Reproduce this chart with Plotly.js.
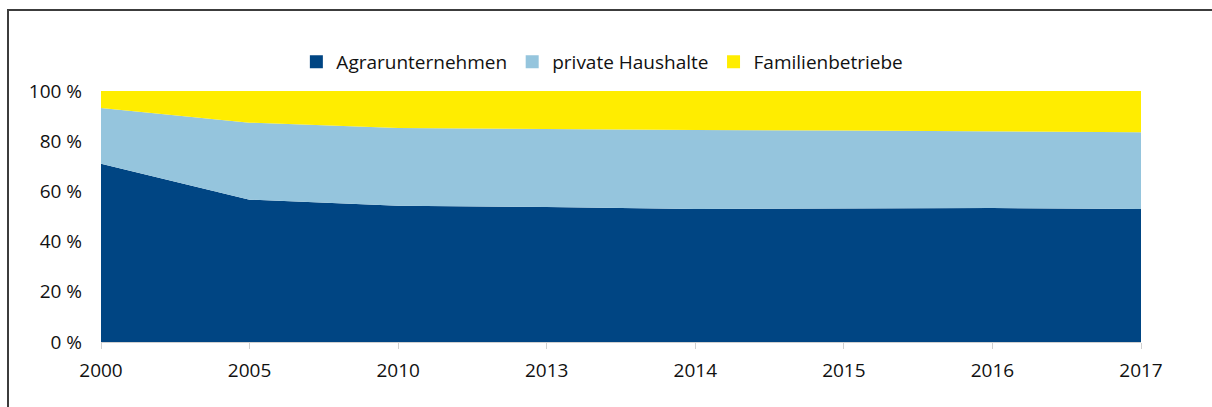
<!DOCTYPE html>
<html>
<head>
<meta charset="utf-8">
<script src="https://cdn.plot.ly/plotly-3.0.1.min.js"></script>
<style>
  html, body { margin: 0; padding: 0; background: #fff; overflow: hidden; }
  #wrap { position: relative; width: 1212px; height: 407px; }
  #chart { position: absolute; left: 0; top: 0; width: 1212px; height: 407px; }
  #frame { position: absolute; left: 7px; top: 9px; width: 1400px; height: 600px;
           border-left: 2px solid #3c3c3c; border-top: 2px solid #3c3c3c; pointer-events: none; }
</style>
</head>
<body>
<div id="wrap">
  <div id="chart"></div>
  <div id="frame"></div>
</div>
<script>
const years = ["2000", "2005", "2010", "2013", "2014", "2015", "2016", "2017"];
const agrarunternehmen = [71.0, 56.7, 54.3, 53.8, 53.0, 53.1, 53.4, 53.0];
const privateHaushalte = [22.2, 30.7, 31.0, 31.0, 31.5, 31.2, 30.6, 30.6];
const familienbetriebe = [6.8, 12.6, 14.7, 15.2, 15.5, 15.7, 16.0, 16.4];
const seriesNames = ["Agrarunternehmen", "private Haushalte", "Familienbetriebe"];
const seriesColors = ["#004583", "#95c5dd", "#ffed00"];
const yTicks = [0, 20, 40, 60, 80, 100];
const yTickLabels = ["0 %", "20 %", "40 %", "60 %", "80 %", "100 %"];

const seriesValues = [agrarunternehmen, privateHaushalte, familienbetriebe];
const traces = [];
seriesValues.forEach((vals, i) => {
  traces.push({
    x: years, y: vals, type: "scatter", mode: "lines",
    stackgroup: "one", line: { width: 0, color: seriesColors[i] },
    fillcolor: seriesColors[i], showlegend: false, hoverinfo: "skip", name: seriesNames[i]
  });
});
seriesNames.forEach((n, i) => {
  traces.push({
    x: [null], y: [null], type: "scatter", mode: "markers", name: n,
    marker: { symbol: "square", size: 13, color: seriesColors[i] },
    showlegend: true, hoverinfo: "skip"
  });
});

const layout = {
  width: 1212, height: 407,
  margin: { l: 101, r: 71, t: 91, b: 65 },
  paper_bgcolor: "rgba(0,0,0,0)", plot_bgcolor: "#fff",
  font: { family: "Open Sans, sans-serif", size: 19, color: "#111" },
  showlegend: true,
  legend: {
    orientation: "h", xref: "container", yref: "container",
    x: 0.497, xanchor: "center", y: 1 - 62 / 407, yanchor: "middle",
    traceorder: "normal", font: { size: 19, color: "#111" }, itemwidth: 30
  },
  xaxis: {
    type: "category", range: [0, years.length - 1],
    showline: true, linecolor: "#d0d0d0", linewidth: 1,
    ticks: "outside", ticklen: 6, tickcolor: "#d0d0d0", tickwidth: 1,
    showgrid: false, zeroline: false, fixedrange: true, ticklabelstandoff: 5
  },
  yaxis: {
    range: [0, 100], tickmode: "array", tickvals: yTicks, ticktext: yTickLabels,
    showgrid: true, gridcolor: "#dcdcdc", zeroline: false,
    showline: false, ticks: "", ticklabelstandoff: 18, fixedrange: true
  },
  hovermode: false
};

Plotly.newPlot("chart", traces, layout, { displayModeBar: false, staticPlot: true });
</script>
</body>
</html>
